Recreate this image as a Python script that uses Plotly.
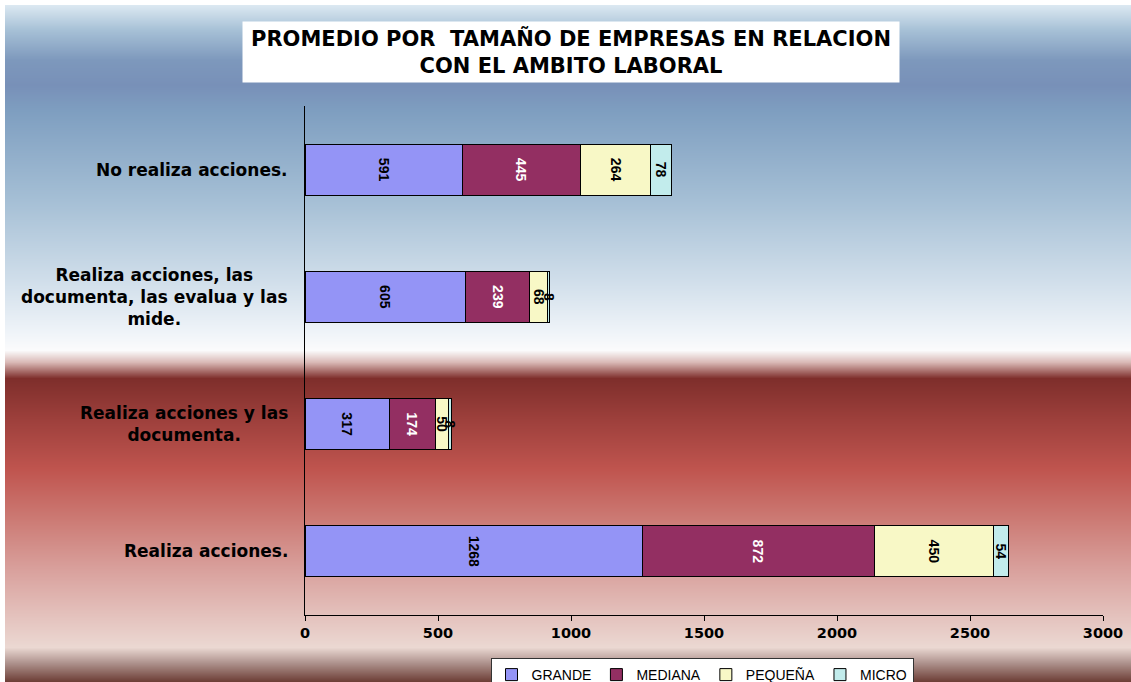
import base64, struct, zlib
import numpy as np
import plotly.graph_objects as go

# ---------------- data ----------------
categories = [
    "Realiza acciones.",
    "Realiza acciones y las<br>documenta.",
    "Realiza acciones, las<br>documenta, las evalua y las<br>mide.",
    "No realiza acciones.",
]
series_names = ["GRANDE", "MEDIANA", "PEQUEÑA", "MICRO"]
grande = [1268, 317, 605, 591]
mediana = [872, 174, 239, 445]
pequena = [450, 50, 68, 264]
micro = [54, 8, 8, 78]
x_ticks = [0, 500, 1000, 1500, 2000, 2500, 3000]
title_text = "PROMEDIO POR  TAMAÑO DE EMPRESAS EN RELACION<br>CON EL AMBITO LABORAL"

series_values = [grande, mediana, pequena, micro]
colors = ["#9494f6", "#932f62", "#f8f8c6", "#c2ecec"]
text_colors = ["black", "white", "black", "black"]

# ---------------- layout geometry (pixels) ----------------
W, H = 1131, 682
L, R, T, B = 305, 28, 106, 67
pw, ph = W - L - R, H - T - B

def px_to_paper_x(px):
    return (px - L) / pw

def px_to_paper_y(py):
    return (H - B - py) / ph

# ---------------- background gradient image ----------------
stops = [
    (5, (219, 232, 241)), (30, (166, 192, 214)), (60, (125, 152, 188)),
    (85, (120, 144, 184)), (110, (126, 158, 192)), (200, (165, 191, 213)),
    (280, (208, 222, 234)), (330, (238, 243, 248)), (350, (251, 251, 252)),
    (362, (217, 184, 181)), (378, (126, 46, 43)), (420, (158, 64, 60)),
    (470, (192, 85, 79)), (520, (204, 123, 117)), (570, (217, 161, 157)),
    (620, (229, 197, 192)), (647, (235, 216, 210)), (662, (176, 149, 144)),
    (682, (106, 58, 50)),
]
ys = np.arange(5, 682)
sy = [s[0] for s in stops]
rows = []
for y in ys:
    rgb = [int(round(np.interp(y, sy, [s[1][c] for s in stops]))) for c in range(3)]
    rows.append(rgb)
gw = 4
raw = b"".join(b"\x00" + bytes(r) * gw for r in rows)

def png_chunk(tag, data):
    c = struct.pack(">I", len(data)) + tag + data
    return c + struct.pack(">I", zlib.crc32(tag + data) & 0xffffffff)

png = (b"\x89PNG\r\n\x1a\n" + png_chunk(b"IHDR", struct.pack(">IIBBBBB", gw, len(rows), 8, 2, 0, 0, 0))
       + png_chunk(b"IDAT", zlib.compress(raw, 9)) + png_chunk(b"IEND", b""))
bg_uri = "data:image/png;base64," + base64.b64encode(png).decode()

# ---------------- figure ----------------
fig = go.Figure()
for name, vals, col, tcol in zip(series_names, series_values, colors, text_colors):
    fig.add_trace(go.Bar(
        y=categories, x=vals, name=name, orientation="h",
        marker=dict(color=col, line=dict(color="black", width=1)),
        text=[str(v) for v in vals], textposition="inside", insidetextanchor="middle",
        textangle=90, constraintext="none",
        insidetextfont=dict(color=tcol, size=14, family="Liberation Sans, Arial", weight="bold"),
        hoverinfo="skip",
    ))

annotations = [
    dict(text="<b>" + title_text + "</b>", xref="paper", yref="paper",
         x=px_to_paper_x(571), y=px_to_paper_y(52), xanchor="center", yanchor="middle",
         showarrow=False, bgcolor="white", width=654, height=58,
         font=dict(size=21, color="black", family="DejaVu Sans"), align="center"),
]
for c in categories:
    annotations.append(dict(text="<b>" + c + "</b>", xref="paper", yref="y", x=0, y=c,
                            xanchor="right", yanchor="middle", xshift=-15, showarrow=False,
                            align="center",
                            font=dict(size=17, color="black", family="DejaVu Sans")))

fig.update_layout(
    width=W, height=H, barmode="stack", bargap=0.6,
    margin=dict(l=L, r=R, t=T, b=B, autoexpand=False),
    paper_bgcolor="white", plot_bgcolor="rgba(0,0,0,0)",
    uniformtext=dict(minsize=14, mode="show"),
    images=[dict(source=bg_uri, xref="paper", yref="paper",
                 x=px_to_paper_x(5), y=px_to_paper_y(5),
                 sizex=(W - 5) / pw, sizey=(H - 5) / ph,
                 xanchor="left", yanchor="top", sizing="stretch", layer="below")],
    xaxis=dict(range=[0, 3000], tickvals=x_ticks, ticktext=[str(v) for v in x_ticks],
               showgrid=False, zeroline=False, showline=True, linecolor="black", linewidth=1,
               ticks="outside", ticklen=5, tickcolor="black",
               tickfont=dict(size=14.5, color="black", family="DejaVu Sans", weight="bold")),
    yaxis=dict(categoryorder="array", categoryarray=categories, showticklabels=False,
               showgrid=False, zeroline=False, showline=True, linecolor="black", linewidth=1,
               ticks=""),
    legend=dict(orientation="h", x=px_to_paper_x(702), xanchor="center",
                y=px_to_paper_y(658), yanchor="top", bgcolor="white", traceorder="normal",
                bordercolor="#333333", borderwidth=1, itemwidth=30,
                font=dict(size=14, color="black", family="Liberation Sans, Arial")),
    annotations=annotations,
    showlegend=True,
)

fig.write_html("out.html", config={"displayModeBar": False},
               post_script="document.body.style.margin='0';document.body.style.overflow='hidden';")
